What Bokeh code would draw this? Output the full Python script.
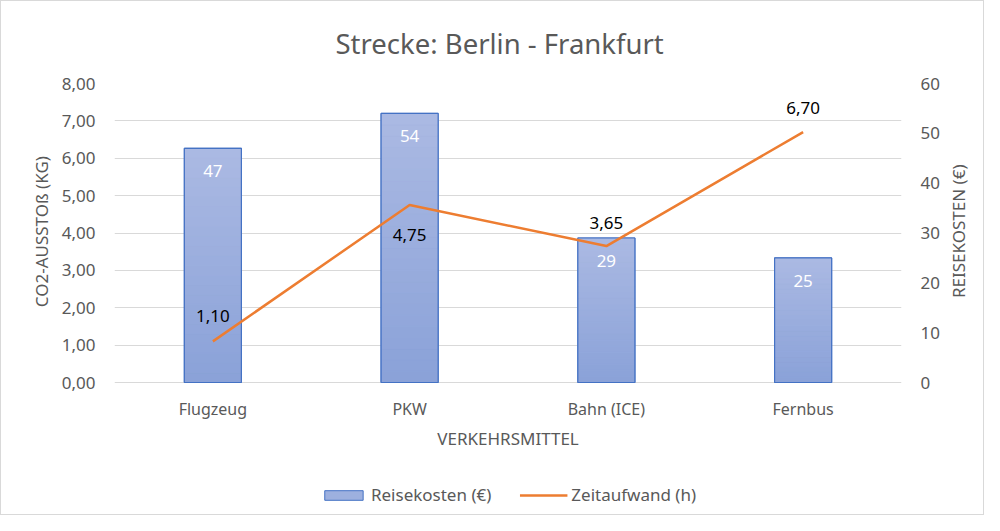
import math
from bokeh.plotting import figure
from bokeh.models import (Range1d, LinearAxis, ColumnDataSource, LabelSet, Label,
                          Legend, LegendItem, CustomJSTickFormatter, FixedTicker, FactorRange)
from bokeh.embed import file_html
from bokeh.resources import INLINE
from bokeh.core.properties import value

# ---- data ----
categories = ["Flugzeug", "PKW", "Bahn (ICE)", "Fernbus"]
reisekosten = [47, 54, 29, 25]          # € (right axis)
zeitaufwand = [1.10, 4.75, 3.65, 6.70]  # h (left axis)
co2_ticks = [0, 1, 2, 3, 4, 5, 6, 7, 8]
kosten_ticks = [0, 10, 20, 30, 40, 50, 60]
CO2_MAX = 8
KOSTEN_MAX = 60

# ---- layout / style ----
W, H = 984, 515
TOP, BOTTOM, LEFT, RIGHT = 82, 4, 113, 84
PLOT_H = 299                      # pixel height of the 0..max value area
FRAME_H = H - TOP - BOTTOM
EXTRA = FRAME_H - PLOT_H          # pixels below the zero line (axis texts + legend)
PAD = "\u00a0" * 30               # shifts the left axis title to the middle of the value area

FONT = "Noto Sans"
GRAY = "#595959"
BAR_TOP = (171, 185, 227)
BAR_BOTTOM = (138, 162, 216)
BAR_LINE = "#4472c4"
LINE_COLOR = "#ed7d31"
BAR_W = 0.29
line_label_offsets = [25, -30, 23, 24]

p = figure(x_range=FactorRange(*categories),
           y_range=Range1d(-EXTRA * CO2_MAX / PLOT_H, CO2_MAX),
           width=W, height=H, output_backend="svg", toolbar_location=None,
           x_axis_location=None,
           min_border_left=LEFT, min_border_right=RIGHT, min_border_top=TOP,
           min_border_bottom=BOTTOM)
p.extra_y_ranges = {"kosten": Range1d(-EXTRA * KOSTEN_MAX / PLOT_H, KOSTEN_MAX)}
p.outline_line_color = None
p.background_fill_color = "white"
p.border_fill_color = "white"
p.styles = {"border": "1px solid #d9d9d9"}

p.title.text = "Strecke: Berlin - Frankfurt"
p.title.align = "left"
p.title.offset = 221
p.title.vertical_align = "middle"
p.title.text_font = FONT
p.title.text_font_size = "27.5px"
p.title.text_font_style = "normal"
p.title.text_color = GRAY
p.title.standoff = 42

# grid
p.xgrid.grid_line_color = None
p.ygrid.grid_line_color = "#d9d9d9"
p.ygrid.grid_line_width = 1

# left axis
ya = p.yaxis[0]
ya.ticker = FixedTicker(ticks=co2_ticks)
ya.formatter = CustomJSTickFormatter(code="return tick.toFixed(2).replace('.', ',');")
ya.axis_label = PAD + "CO2-AUSSTOß (KG)"

# right axis
ra = LinearAxis(y_range_name="kosten", ticker=FixedTicker(ticks=kosten_ticks),
                axis_label="REISEKOSTEN (€)")
p.add_layout(ra, "right")
ra.axis_label_orientation = math.pi / 2

for ax in (ya, ra):
    ax.axis_line_color = None
    ax.major_tick_line_color = None
    ax.minor_tick_line_color = None
    ax.major_tick_out = 0
    ax.major_tick_in = 0
    ax.major_label_text_font = FONT
    ax.major_label_text_color = GRAY
    ax.major_label_text_font_size = "17px"
    ax.major_label_standoff = 19
    ax.axis_label_text_font = FONT
    ax.axis_label_text_color = GRAY
    ax.axis_label_text_font_style = "normal"
    ax.axis_label_text_font_size = "17px"
ya.axis_label_standoff = 6
ra.axis_label_standoff = 16

# ---- category labels and x-axis title under the zero line ----
cat_src = ColumnDataSource(dict(x=categories, y=[0] * len(categories), lbl=categories))
p.add_layout(LabelSet(x="x", y="y", text="lbl", source=cat_src, y_offset=-26,
                      text_align="center", text_baseline="middle", text_color=GRAY,
                      text_font=value(FONT), text_font_size="16px"))
p.add_layout(Label(x=len(categories) / 2, y=0, y_offset=-56, text="VERKEHRSMITTEL",
                   text_align="center", text_baseline="middle", text_color=GRAY,
                   text_font=FONT, text_font_size="17px"))

# ---- bars (with vertical gradient built from stacked slices) ----
legend_bar = p.vbar(x=categories, top=reisekosten, width=BAR_W, y_range_name="kosten",
                    fill_color="#9db0df", line_color=BAR_LINE, line_width=1)

n = 24
xs, bots, tops, cols = [], [], [], []
for c, v in zip(categories, reisekosten):
    for k in range(n):
        f = (k + 0.5) / n
        r = round(BAR_BOTTOM[0] + (BAR_TOP[0] - BAR_BOTTOM[0]) * f)
        g = round(BAR_BOTTOM[1] + (BAR_TOP[1] - BAR_BOTTOM[1]) * f)
        b = round(BAR_BOTTOM[2] + (BAR_TOP[2] - BAR_BOTTOM[2]) * f)
        xs.append(c)
        bots.append(v * k / n)
        tops.append(v * (k + 1) / n)
        cols.append("#%02x%02x%02x" % (r, g, b))
grad = ColumnDataSource(dict(x=xs, bottom=bots, top=tops, color=cols))
p.vbar(x="x", bottom="bottom", top="top", width=BAR_W, source=grad,
       y_range_name="kosten", fill_color="color", line_color="color", line_width=0.6)
p.vbar(x=categories, top=reisekosten, width=BAR_W, y_range_name="kosten",
       fill_color=None, line_color=BAR_LINE, line_width=1.2)

bar_src = ColumnDataSource(dict(x=categories, top=reisekosten,
                                lbl=[str(v) for v in reisekosten]))
p.add_layout(LabelSet(x="x", y="top", text="lbl", source=bar_src, y_range_name="kosten",
                      y_offset=-23, text_align="center", text_baseline="middle",
                      text_color="white", text_font=value(FONT), text_font_size="17px"))

# ---- line ----
line_r = p.line(x=categories, y=zeitaufwand, line_color=LINE_COLOR, line_width=2.5)
line_src = ColumnDataSource(dict(x=categories, y=zeitaufwand,
                                 lbl=[f"{v:.2f}".replace(".", ",") for v in zeitaufwand],
                                 off=line_label_offsets))
p.add_layout(LabelSet(x="x", y="y", text="lbl", source=line_src, y_offset="off",
                      text_align="center", text_baseline="middle",
                      text_color="black", text_font=value(FONT), text_font_size="17px"))

# ---- legend (bottom of the canvas) ----
legend = Legend(items=[LegendItem(label="Reisekosten (€)", renderers=[legend_bar]),
                       LegendItem(label="Zeitaufwand (h)", renderers=[line_r])],
                orientation="horizontal", location="bottom_center",
                glyph_width=48, glyph_height=12, label_standoff=4, spacing=28,
                padding=0, margin=6, border_line_color=None, background_fill_alpha=0,
                label_text_font=FONT, label_text_font_size="17px", label_text_color=GRAY)
p.add_layout(legend, "center")

open("out.html", "w").write(file_html(p, INLINE))
